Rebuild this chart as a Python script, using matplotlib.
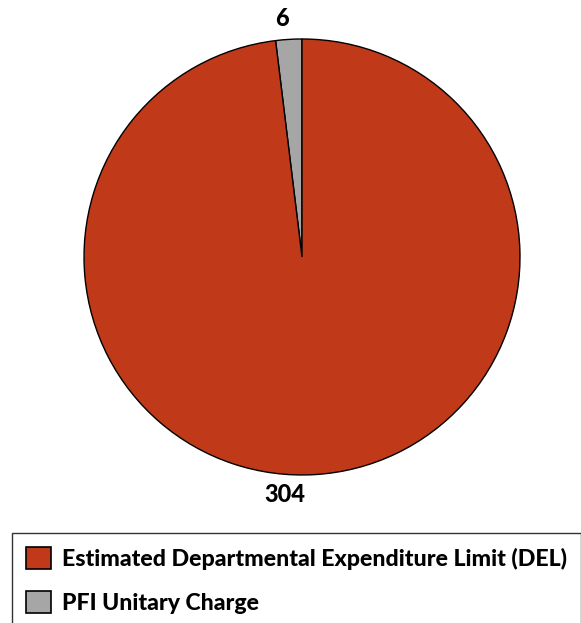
import matplotlib.pyplot as plt

labels = ['PFI Unitary Charge', 'Estimated Departmental Expenditure Limit (DEL)']
values = [6, 304]
colors = ['#a6a6a6', '#c03a1a']

plt.rcParams['font.family'] = ['Lato', 'DejaVu Sans']

fig = plt.figure(figsize=(5.81, 6.23), dpi=100)
ax = fig.add_axes([0.1446, 0.2376, 0.7504, 0.6998])

wedges, texts = ax.pie(values, colors=colors, labels=[str(v) for v in values],
                       startangle=90, counterclock=True, radius=1,
                       wedgeprops=dict(edgecolor='black', linewidth=1),
                       textprops=dict(fontsize=17, fontweight='black'))
# put the value labels above / below the pie, centred
texts[0].set_position((-0.09, 1.096))
texts[1].set_position((-0.078, -1.09))
for t in texts:
    t.set_horizontalalignment('center')
    t.set_verticalalignment('center')

ax.set_xlim(-1, 1)
ax.set_ylim(-1, 1)
ax.set_aspect('equal')
ax.axis('off')

leg = fig.legend(wedges[::-1], labels[::-1], loc='upper left',
                 bbox_to_anchor=(12 / 581, 1 - 533 / 623), borderaxespad=0,
                 prop=dict(family='Lato', weight='black', size=16.7),
                 handlelength=1.1, handleheight=1.1, handletextpad=0.45,
                 labelspacing=0.9, borderpad=0.6, fancybox=False)
leg.get_frame().set_edgecolor('black')
leg.get_frame().set_linewidth(1)
for h in leg.legend_handles:
    h.set_linewidth(1.2)

fig.savefig('out.png', dpi=100)
